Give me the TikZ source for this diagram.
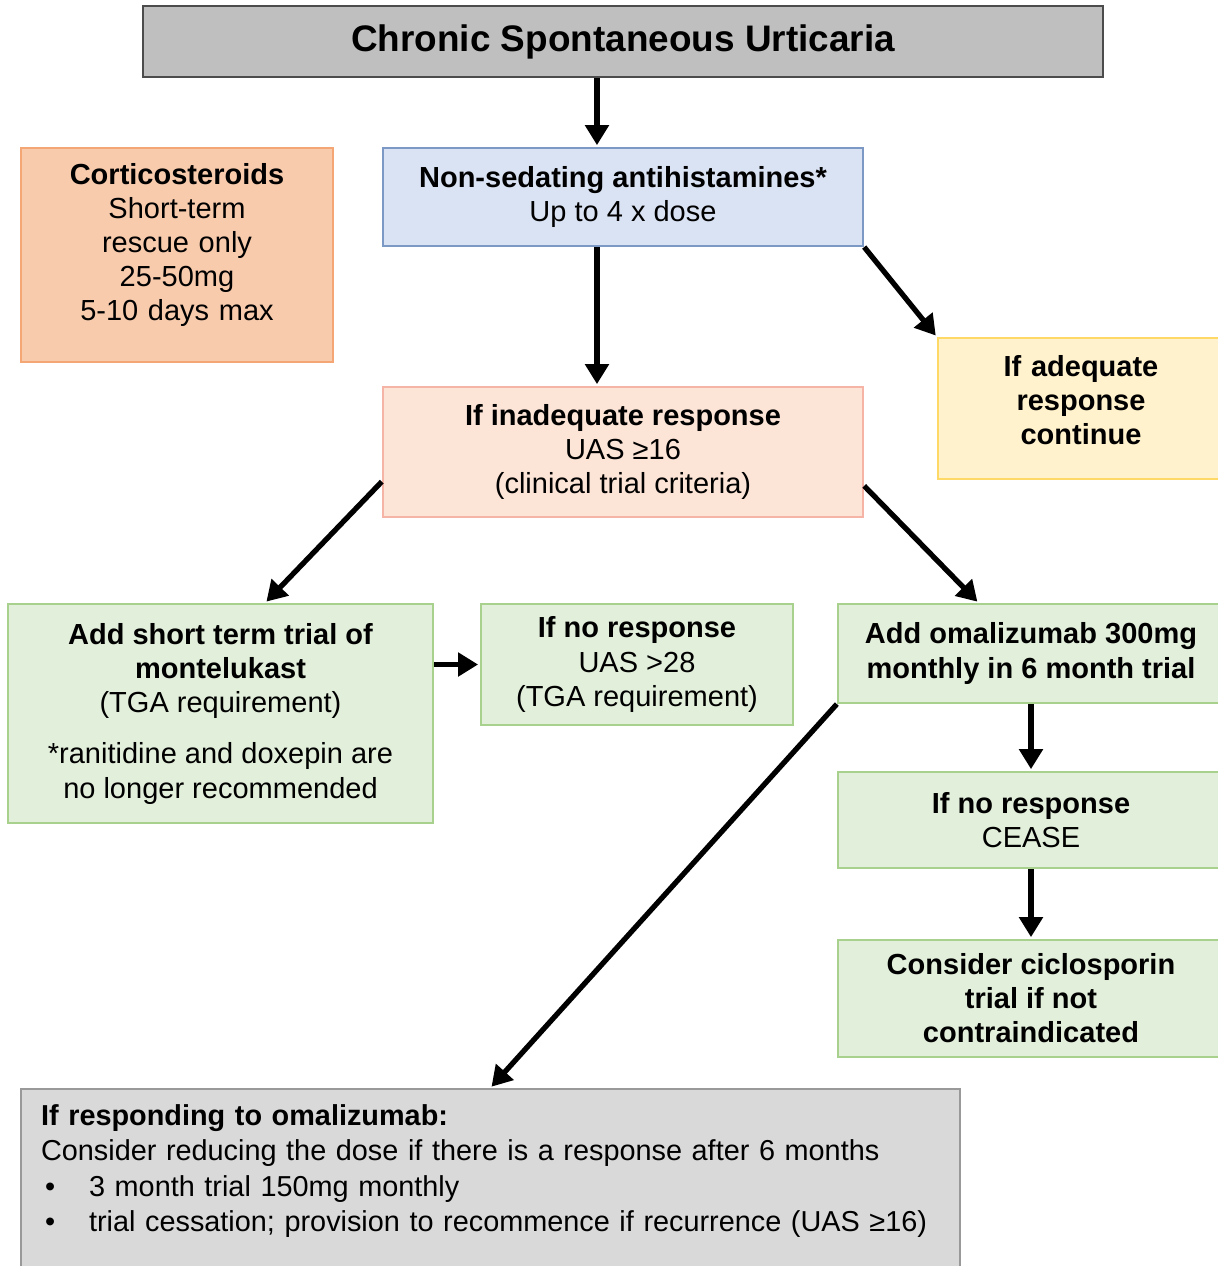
\documentclass[tikz,border=0pt]{standalone}
\usepackage{fontspec}
\setmainfont{Liberation Sans}
\usetikzlibrary{arrows.meta}

\definecolor{titlegray}{HTML}{BFBFBF}
\definecolor{cortfill}{HTML}{F8CBAD}
\definecolor{cortline}{HTML}{F4A774}
\definecolor{bluefill}{HTML}{DAE3F3}
\definecolor{blueline}{HTML}{7C99C6}
\definecolor{yelfill}{HTML}{FFF2CC}
\definecolor{yelline}{HTML}{FFD966}
\definecolor{peachfill}{HTML}{FCE4D6}
\definecolor{peachline}{HTML}{F6B4A6}
\definecolor{greenfill}{HTML}{E2EFDA}
\definecolor{greenline}{HTML}{A9D18E}
\definecolor{botfill}{HTML}{D9D9D9}

\def\boxfont{\fontsize{8.25}{9.7}\selectfont}

\begin{document}
\begin{tikzpicture}[x=0.01cm,y=-0.01cm,font=\boxfont,
    >={Triangle[length=0.2cm,width=0.23cm]}]
    \tikzstyle{box}=[rectangle,draw,line width=0.6pt,align=center,inner sep=0pt]
    \tikzstyle{greenbox}=[box,fill=greenfill,draw=greenline]
    \tikzstyle{flow}=[->,line width=1.5pt,shorten >=0.5pt]

    \useasboundingbox (0,0) rectangle (1218,1266);

    % Top of the chart
    \node[box,fill=titlegray,draw=black!70,minimum width=9.6cm,minimum height=0.71cm,
      font=\fontsize{10.5}{12}\selectfont\bfseries] (csu) at (623,41.5) {Chronic Spontaneous Urticaria};

    \node[box,fill=cortfill,draw=cortline,text width=3.0cm,minimum width=3.12cm,minimum height=2.14cm] (cort) at (177,255)
      {\textbf{Corticosteroids}\\Short-term\\rescue only\\25-50mg\\5-10 days max\par\kern0.2cm};

    \node[box,fill=bluefill,draw=blueline,minimum width=4.8cm,minimum height=0.98cm] (nsa) at (623,197)
      {\textbf{Non-sedating antihistamines*}\\Up to 4 x dose};

    \node[box,fill=yelfill,draw=yelline,text width=2.7cm,minimum width=2.86cm,minimum height=1.41cm] (adq) at (1081,408.5)
      {\textbf{If adequate}\\\textbf{response}\\\textbf{continue}\par\kern0.16cm};

    \node[box,fill=peachfill,draw=peachline,minimum width=4.8cm,minimum height=1.3cm] (inad) at (623,452)
      {\textbf{If inadequate response}\\UAS ≥16\\(clinical trial criteria)};

    % Green boxes
    \node[greenbox,minimum width=4.25cm,minimum height=2.19cm] (mont) at (220.5,713.5)
      {\textbf{Add short term trial of}\\\textbf{montelukast}\\(TGA requirement)\\[5pt]*ranitidine and doxepin are\\no longer recommended};
    \node[greenbox,minimum width=3.12cm,minimum height=1.21cm] (nr1) at (637,664.5)
      {\textbf{If no response}\\UAS >28\\(TGA requirement)};
    \node[greenbox,minimum width=3.86cm,minimum height=0.99cm] (omal) at (1031,653.5)
      {\textbf{Add omalizumab 300mg}\\\textbf{monthly in 6 month trial}};
    \node[greenbox,minimum width=3.86cm,minimum height=0.96cm] (cease) at (1031,820)
      {\textbf{If no response}\\CEASE};
    \node[greenbox,minimum width=3.86cm,minimum height=1.17cm] (cic) at (1031,998.5)
      {\textbf{Consider ciclosporin}\\\textbf{trial if not}\\\textbf{contraindicated}};

    % Bottom box
    \node[box,fill=botfill,draw=black!40,anchor=north west,align=left,text width=8.98cm,
      inner xsep=0.2cm,minimum height=1.84cm,font=\fontsize{8.2}{10}\selectfont] (resp) at (20,1088)
      {\textbf{If responding to omalizumab:}\\
       Consider reducing the dose if there is a response after 6 months\\
       \makebox[0.48cm][l]{\hspace{0.04cm}\textbullet}3 month trial 150mg monthly\\
       \makebox[0.48cm][l]{\hspace{0.04cm}\textbullet}trial cessation; provision to recommence if recurrence (UAS ≥16)\par\kern0.2cm};

    % Connect the boxes
    \path[flow] ([xshift=-0.26cm]csu.south) edge ([xshift=-0.26cm]nsa.north);
    \path[flow] ([xshift=-0.26cm]nsa.south) edge ([xshift=-0.26cm]inad.north);
    \path[flow] (nsa.south east) edge (adq.north west);
    \path[flow] (inad.187) edge (mont.68);
    \path[flow] (inad.-8) edge (omal.136);
    \path[flow] (mont.east |- nr1.west) edge (nr1.west);
    \path[flow] (omal.south west) edge (resp.north);
    \path[flow] (omal.south) edge (cease.north);
    \path[flow] (cease.south) edge (cic.north);
\end{tikzpicture}
\end{document}
